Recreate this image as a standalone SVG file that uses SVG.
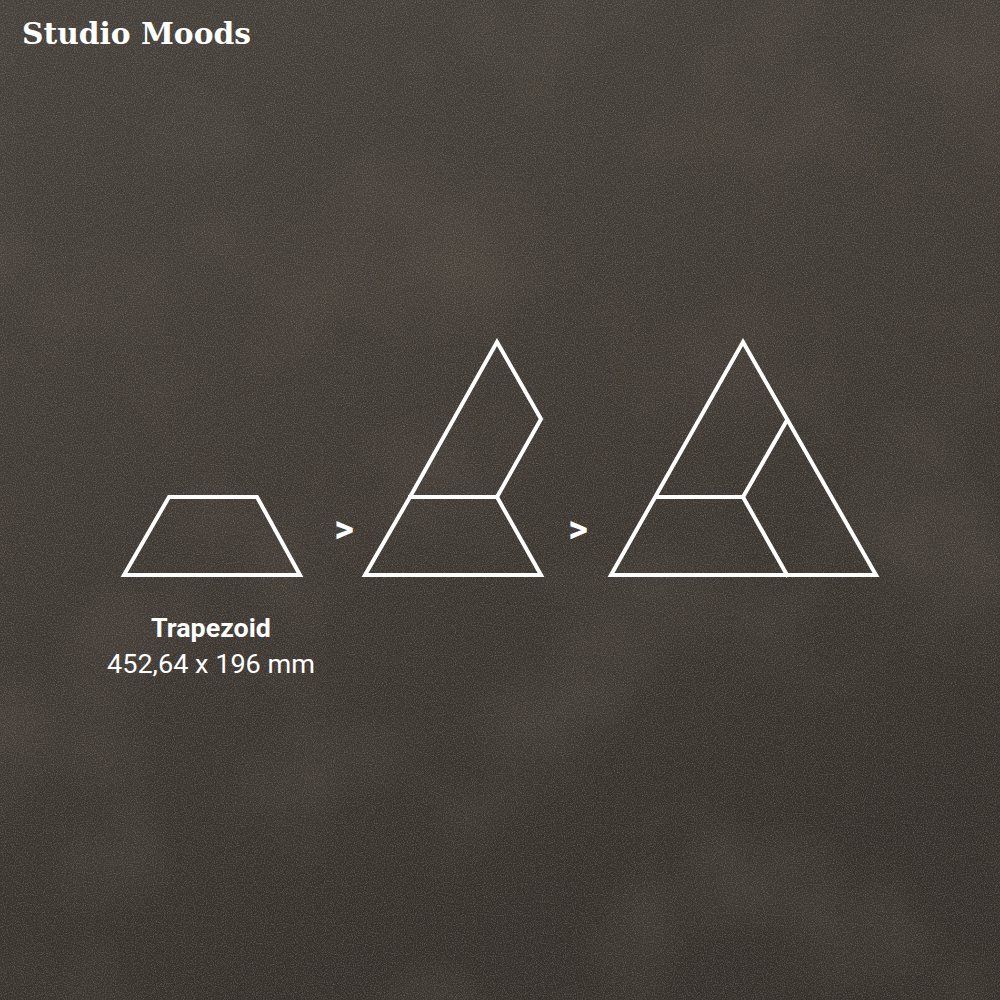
<svg xmlns="http://www.w3.org/2000/svg" width="1000" height="1000" viewBox="0 0 1000 1000">
<defs>
<linearGradient id="bg" x1="0" y1="0" x2="0.3" y2="1">
<stop offset="0" stop-color="#45403a"/>
<stop offset="0.45" stop-color="#403a34"/>
<stop offset="1" stop-color="#35302b"/>
</linearGradient>
<filter id="grain" x="0" y="0" width="100%" height="100%">
<feTurbulence type="fractalNoise" baseFrequency="0.9" numOctaves="2" seed="3" result="n"/>
<feColorMatrix in="n" type="matrix" values="0 0 0 0 0.55  0 0 0 0 0.5  0 0 0 0 0.45  0 0 0 -1.8 1.05" result="c"/>
<feComposite in="c" in2="SourceGraphic" operator="in"/>
</filter>
<filter id="mottle" x="0" y="0" width="100%" height="100%">
<feTurbulence type="fractalNoise" baseFrequency="0.006" numOctaves="3" seed="8" result="n"/>
<feColorMatrix in="n" type="matrix" values="0 0 0 0 0.12  0 0 0 0 0.1  0 0 0 0 0.08  0 0 0 -2.2 1.2" result="c"/>
<feComposite in="c" in2="SourceGraphic" operator="in"/>
</filter>
<style>
.shape{fill:none;stroke:#ffffff;stroke-width:4;stroke-linejoin:miter;stroke-linecap:square}
.arrow{font-family:"Roboto","Liberation Sans",sans-serif;font-weight:700;font-size:38px;fill:#ffffff;text-anchor:middle}
.title{font-family:"DejaVu Serif","Liberation Serif",serif;font-weight:700;font-size:29px;fill:#ffffff}
.label{font-family:"Roboto","Liberation Sans",sans-serif;fill:#ffffff;text-anchor:middle}
</style>
</defs>
<rect x="0" y="0" width="1000" height="1000" fill="url(#bg)"/>
<rect x="0" y="0" width="1000" height="1000" fill="#000" filter="url(#mottle)" opacity="0.3"/>
<rect x="0" y="0" width="1000" height="1000" fill="#000" filter="url(#grain)" opacity="0.35"/>
<text class="title" x="22" y="44" textLength="229" lengthAdjust="spacingAndGlyphs">Studio Moods</text>
<g id="trapezoid">
<polygon class="shape" points="169,497 257,497 300,575 124,575"/>
<text class="label" x="211" y="637" font-size="25" font-weight="700" textLength="120" lengthAdjust="spacingAndGlyphs">Trapezoid</text>
<text class="label" x="211" y="673" font-size="26" textLength="208" lengthAdjust="spacingAndGlyphs">452,64 x 196 mm</text>
</g>
<g id="step2">
<polygon class="shape" points="497,342 541,419 497,497 541,575 365,575 410,497"/>
<line class="shape" x1="410" y1="497" x2="497" y2="497"/>
</g>
<g id="step3">
<polygon class="shape" points="743,342 876,575 611,575"/>
<polyline class="shape" points="656,497 743,497 786,422"/>
<line class="shape" x1="743" y1="497" x2="787" y2="575"/>
</g>
<g id="connectors">
<text class="arrow" x="344" y="542">&gt;</text>
<text class="arrow" x="578" y="542">&gt;</text>
</g>
</svg>
